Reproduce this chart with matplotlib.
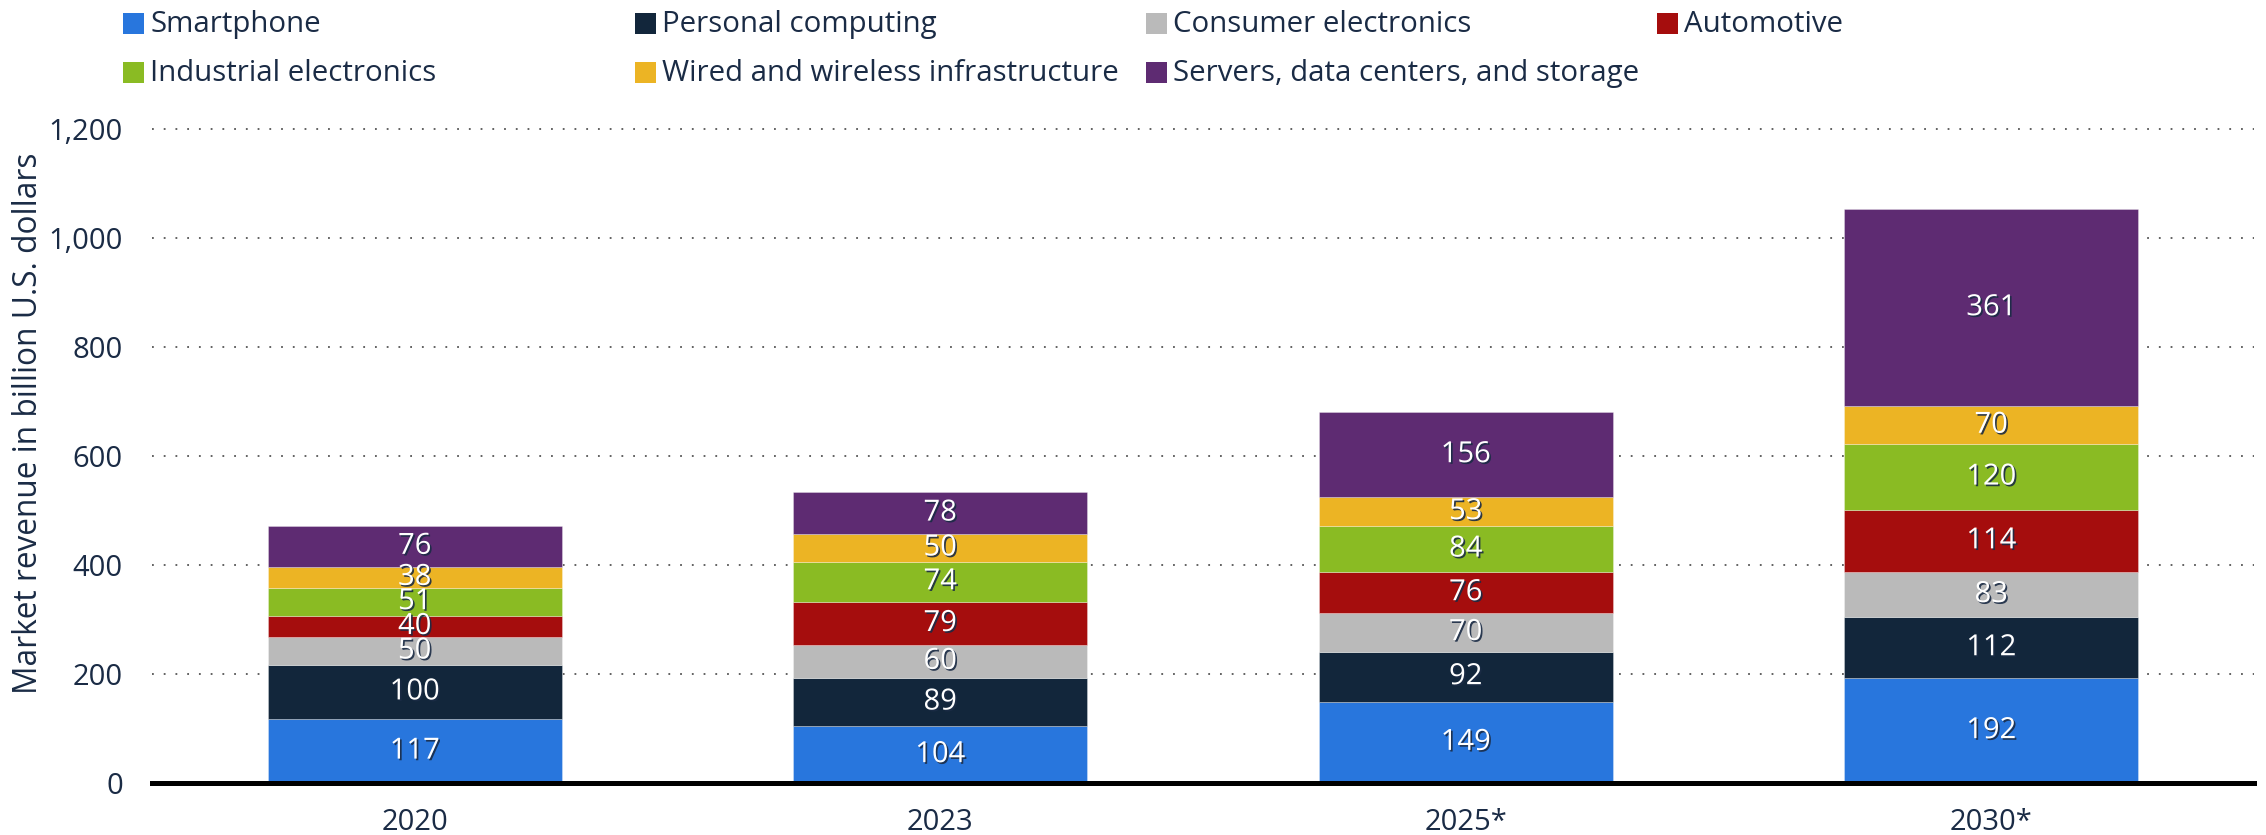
import matplotlib
matplotlib.use("Agg")
import matplotlib.pyplot as plt
import matplotlib.patheffects as pe
from matplotlib.patches import Rectangle
from matplotlib.ticker import FuncFormatter
import numpy as np

plt.rcParams['font.family'] = ['Open Sans', 'DejaVu Sans']

years = ["2020", "2023", "2025*", "2030*"]
segments = ["Smartphone", "Personal computing", "Consumer electronics", "Automotive",
            "Industrial electronics", "Wired and wireless infrastructure",
            "Servers, data centers, and storage"]
smartphone = [117, 104, 149, 192]
personal_computing = [100, 89, 92, 112]
consumer_electronics = [50, 60, 70, 83]
automotive = [40, 79, 76, 114]
industrial_electronics = [51, 74, 84, 120]
wired_wireless = [38, 50, 53, 70]
servers = [76, 78, 156, 361]
series = [smartphone, personal_computing, consumer_electronics, automotive,
          industrial_electronics, wired_wireless, servers]
colors = ["#2876DD", "#12263B", "#BABABA", "#A50D0D", "#8ABB23", "#ECB424", "#5E2B72"]
yticks = [0, 200, 400, 600, 800, 1000, 1200]

TXT = "#1a2b45"
W, H = 2266, 835
fig = plt.figure(figsize=(W / 100, H / 100), dpi=100)
ax_left, ax_right = 152, 2254
ax_bottom = 783
px_per_unit = (783 - 128.6) / 1200
ytop = 1230
ax = fig.add_axes([ax_left / W, (H - ax_bottom) / H, (ax_right - ax_left) / W,
                   ytop * px_per_unit / H])

x = np.arange(len(years))
bottom = np.zeros(len(years))
shadow = [pe.withSimplePatchShadow(offset=(1.2, -1.2), shadow_rgbFace="#1a2b45", alpha=0.9)]
for vals, col in zip(series, colors):
    vals = np.array(vals, dtype=float)
    ax.bar(x, vals, width=0.56, bottom=bottom, color=col, edgecolor=(1, 1, 1, 0.35),
           linewidth=0.6, zorder=3)
    for xi, b, v in zip(x, bottom, vals):
        ax.text(xi, b + v / 2, f"{int(v)}", ha="center", va="center", color="white",
                fontsize=21, zorder=5, path_effects=shadow)
    bottom += vals

ax.set_xlim(-0.5, len(years) - 0.5)
ax.set_ylim(0, ytop)
ax.set_yticks(yticks)
ax.yaxis.set_major_formatter(FuncFormatter(lambda v, p: f"{int(v):,}"))
ax.set_xticks(x)
ax.set_xticklabels(years)
ax.tick_params(axis="both", length=0, labelsize=21, labelcolor=TXT)
ax.tick_params(axis="y", pad=21)
ax.tick_params(axis="x", pad=18)
for s in ax.spines.values():
    s.set_visible(False)
for yv in yticks[1:]:
    ax.axhline(yv, color="#555555", linewidth=1.3, linestyle=(0, (1, 5.5)), zorder=1)
ax.axhline(0, color="black", linewidth=3.6, zorder=4, clip_on=False)

fig.text(29 / W, 1 - 423 / H, "Market revenue in billion U.S. dollars", rotation=90,
         ha="center", va="center", fontsize=22.8, color=TXT)

# legend
col_x = [123, 635, 1146, 1657]
row_y = [13, 62]
sq = 21
for i, (name, col) in enumerate(zip(segments, colors)):
    cx = col_x[i % 4]
    ry = row_y[i // 4]
    fig.patches.append(Rectangle((cx / W, 1 - (ry + sq) / H), sq / W, sq / H,
                                 transform=fig.transFigure, facecolor=col, edgecolor="none"))
    fig.text((cx + 27) / W, 1 - (ry + sq / 2 + 1) / H, name, ha="left", va="center",
             fontsize=21.2, color=TXT)

fig.savefig("out.png", dpi=100)
